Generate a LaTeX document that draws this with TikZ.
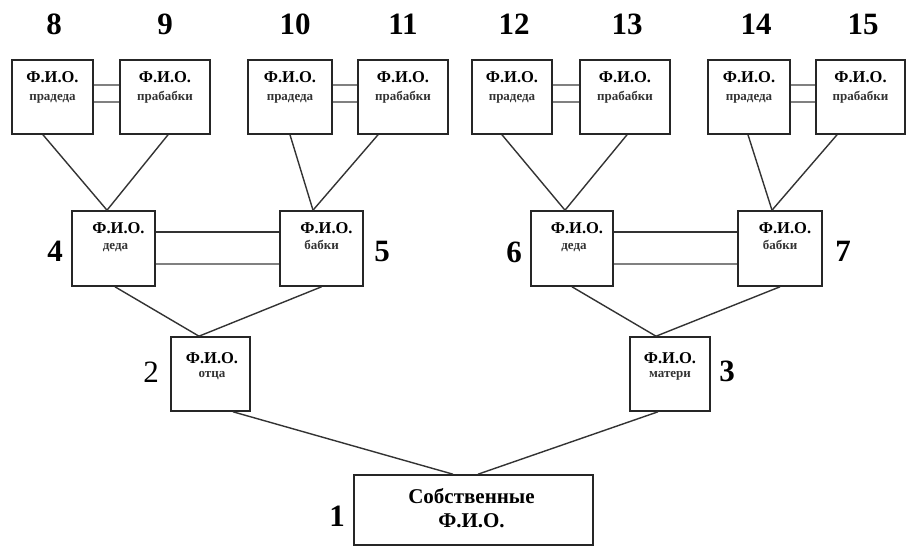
\documentclass[tikz,border=0pt]{standalone}
\usepackage{fontspec}
\setmainfont{Liberation Serif}
\usetikzlibrary{positioning}

\begin{document}
\begin{tikzpicture}[x=1pt, y=-1pt,
    person/.style={draw=black!85, line width=1.6pt, minimum height=74pt, inner sep=0pt},
    fio/.style={font=\fontsize{16.5}{18}\selectfont\bfseries, inner sep=0pt, anchor=north},
    kin/.style={font=\fontsize{13}{14}\selectfont\bfseries, text=black!80, inner sep=0pt, anchor=base},
    num/.style={font=\fontsize{31}{31}\selectfont\bfseries, inner sep=0pt},
    link/.style={draw=black!80, line width=1.4pt},
    bond/.style={draw=black!50, line width=1.9pt}]
        \useasboundingbox[fill=white] (0,0) rectangle (907,548);

        % great-grandparents
        \node[person, minimum width=81pt] (8) at (52.5,97) {};
        \node[fio] (f8) at ([yshift=-12pt]8.north) {Ф.И.О.};
        \node[kin] (k8) at ([yshift=-18pt]f8.base) {прадеда};
        \node[person, minimum width=90pt] (9) at (165,97) {};
        \node[fio] (f9) at ([yshift=-12pt]9.north) {Ф.И.О.};
        \node[kin] (k9) at ([yshift=-18pt]f9.base) {прабабки};
        \node[person, minimum width=84pt] (10) at (290,97) {};
        \node[fio] (f10) at ([yshift=-12pt]10.north) {Ф.И.О.};
        \node[kin] (k10) at ([yshift=-18pt]f10.base) {прадеда};
        \node[person, minimum width=90pt] (11) at (403,97) {};
        \node[fio] (f11) at ([yshift=-12pt]11.north) {Ф.И.О.};
        \node[kin] (k11) at ([yshift=-18pt]f11.base) {прабабки};
        \node[person, minimum width=80pt] (12) at (512,97) {};
        \node[fio] (f12) at ([yshift=-12pt]12.north) {Ф.И.О.};
        \node[kin] (k12) at ([yshift=-18pt]f12.base) {прадеда};
        \node[person, minimum width=90pt] (13) at (625,97) {};
        \node[fio] (f13) at ([yshift=-12pt]13.north) {Ф.И.О.};
        \node[kin] (k13) at ([yshift=-18pt]f13.base) {прабабки};
        \node[person, minimum width=82pt] (14) at (749,97) {};
        \node[fio] (f14) at ([yshift=-12pt]14.north) {Ф.И.О.};
        \node[kin] (k14) at ([yshift=-18pt]f14.base) {прадеда};
        \node[person, minimum width=89pt] (15) at (860.5,97) {};
        \node[fio] (f15) at ([yshift=-12pt]15.north) {Ф.И.О.};
        \node[kin] (k15) at ([yshift=-18pt]f15.base) {прабабки};

        % grandparents
        \node[person, minimum width=83pt, minimum height=75pt] (4) at (113.5,248.5) {};
        \node[fio] (f4) at ([xshift=5pt, yshift=-12pt]4.north) {Ф.И.О.};
        \node[kin] (k4) at ([xshift=-3pt, yshift=-16pt]f4.base) {деда};
        \node[person, minimum width=83pt, minimum height=75pt] (5) at (321.5,248.5) {};
        \node[fio] (f5) at ([xshift=5pt, yshift=-12pt]5.north) {Ф.И.О.};
        \node[kin] (k5) at ([xshift=-5pt, yshift=-16pt]f5.base) {бабки};
        \node[person, minimum width=82pt, minimum height=75pt] (6) at (572,248.5) {};
        \node[fio] (f6) at ([xshift=5pt, yshift=-12pt]6.north) {Ф.И.О.};
        \node[kin] (k6) at ([xshift=-3pt, yshift=-16pt]f6.base) {деда};
        \node[person, minimum width=84pt, minimum height=75pt] (7) at (780,248.5) {};
        \node[fio] (f7) at ([xshift=5pt, yshift=-12pt]7.north) {Ф.И.О.};
        \node[kin] (k7) at ([xshift=-5pt, yshift=-16pt]f7.base) {бабки};

        % parents
        \node[person, minimum width=79pt] (2) at (210.5,374) {};
        \node[fio] (f2) at ([xshift=1.5pt, yshift=-16pt]2.north) {Ф.И.О.};
        \node[kin] (k2) at ([yshift=-14pt]f2.base) {отца};
        \node[person, minimum width=80pt] (3) at (670,374) {};
        \node[fio] (f3) at ([yshift=-16pt]3.north) {Ф.И.О.};
        \node[kin] (k3) at ([yshift=-14pt]f3.base) {матери};

        % self
        \node[person, minimum width=239pt, minimum height=70pt] (1) at (473.5,510) {};
        \node[fio, font=\fontsize{21}{24}\selectfont\bfseries, align=center] (f1) at ([xshift=-2pt, yshift=-14pt]1.north) {Собственные\\Ф.И.О.};

        % numbers
        \node[num] (n8) at (54,24) {8};
        \node[num] (n9) at (165,24) {9};
        \node[num] (n10) at (295,24) {10};
        \node[num] (n11) at (403,24) {11};
        \node[num] (n12) at (514,24) {12};
        \node[num] (n13) at (627,24) {13};
        \node[num] (n14) at (756,24) {14};
        \node[num] (n15) at (863,24) {15};
        \node[num] (n4) at (55,251) {4};
        \node[num] (n5) at (382,252) {5};
        \node[num] (n6) at (514,252) {6};
        \node[num] (n7) at (843,251) {7};
        \node[num, font=\fontsize{31}{31}\selectfont] (n2) at (151,372) {2};
        \node[num] (n3) at (727,371) {3};
        \node[num] (n1) at (337,516) {1};

        % marriages
        \draw[bond] ([yshift=12pt]8.east) -- ([yshift=12pt]9.west);
        \draw[bond] ([yshift=-5pt]8.east) -- ([yshift=-5pt]9.west);
        \draw[bond] ([yshift=12pt]10.east) -- ([yshift=12pt]11.west);
        \draw[bond] ([yshift=-5pt]10.east) -- ([yshift=-5pt]11.west);
        \draw[bond] ([yshift=12pt]12.east) -- ([yshift=12pt]13.west);
        \draw[bond] ([yshift=-5pt]12.east) -- ([yshift=-5pt]13.west);
        \draw[bond] ([yshift=12pt]14.east) -- ([yshift=12pt]15.west);
        \draw[bond] ([yshift=-5pt]14.east) -- ([yshift=-5pt]15.west);
        \draw[link, line width=2.2pt] ([yshift=16.5pt]4.east) -- ([yshift=16.5pt]5.west);
        \draw[bond, line width=1.5pt] ([yshift=-15.5pt]4.east) -- ([yshift=-15.5pt]5.west);
        \draw[link, line width=2.2pt] ([yshift=16.5pt]6.east) -- ([yshift=16.5pt]7.west);
        \draw[bond, line width=1.5pt] ([yshift=-15.5pt]6.east) -- ([yshift=-15.5pt]7.west);

        % descent
        \draw[link] ([xshift=-9.5pt]8.south) -- ([xshift=-6.5pt]4.north);
        \draw[link] ([xshift=3pt]9.south) -- ([xshift=-6.5pt]4.north);
        \draw[link] (10.south) -- ([xshift=-8.5pt]5.north);
        \draw[link] ([xshift=-25pt]11.south) -- ([xshift=-8.5pt]5.north);
        \draw[link] ([xshift=-10pt]12.south) -- ([xshift=-7pt]6.north);
        \draw[link] ([xshift=2pt]13.south) -- ([xshift=-7pt]6.north);
        \draw[link] ([xshift=-1pt]14.south) -- ([xshift=-8pt]7.north);
        \draw[link] ([xshift=-23.5pt]15.south) -- ([xshift=-8pt]7.north);
        \draw[link] ([xshift=1.5pt]4.south) -- ([xshift=-11.5pt]2.north);
        \draw[link] (5.south) -- ([xshift=-11.5pt]2.north);
        \draw[link] (6.south) -- ([xshift=-14pt]3.north);
        \draw[link] (7.south) -- ([xshift=-14pt]3.north);
        \draw[link] ([xshift=22.5pt]2.south) -- ([xshift=-20.5pt]1.north);
        \draw[link] ([xshift=-12pt]3.south) -- ([xshift=4.5pt]1.north);
    \end{tikzpicture}
\end{document}
